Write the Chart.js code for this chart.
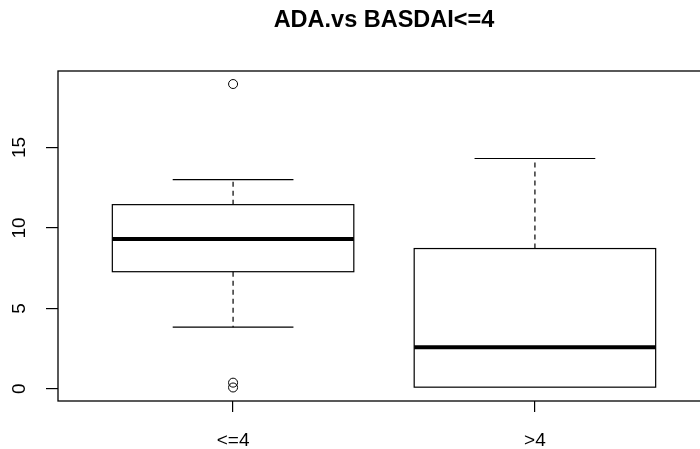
<!DOCTYPE html>
<html>
<head>
<meta charset="utf-8">
<script src="https://cdn.jsdelivr.net/npm/chart.js@4.4.0/dist/chart.umd.min.js"></script>
<style>
  html, body { margin: 0; padding: 0; background: #fff; overflow: hidden; }
  canvas { display: block; }
</style>
</head>
<body>
<canvas id="grafico" width="768" height="449"></canvas>
<script>
const grupos = ['<=4', '>4'];
const minimo = [3.83, 0.1];
const q1 = [7.28, 0.1];
const mediana = [9.32, 2.58];
const q3 = [11.45, 8.72];
const maximo = [13.0, 14.32];
const outliers = [[18.95, 0.38, 0.08], []];
const yTicks = [0, 5, 10, 15];

const pontosOutliers = [];
outliers.forEach((lista, i) => {
  lista.forEach(v => pontosOutliers.push({ x: i + 1, y: v }));
});

// desenha caixas, medianas e bigodes pelas escalas do grafico
const boxplotPlugin = {
  id: 'boxplot',
  beforeDatasetsDraw(chart) {
    const { ctx, scales: { x, y } } = chart;
    ctx.save();
    ctx.strokeStyle = '#000';
    grupos.forEach((g, i) => {
      const c = i + 1;
      const xe = x.getPixelForValue(c - 0.4);
      const xd = x.getPixelForValue(c + 0.4);
      const xc = x.getPixelForValue(c);
      const ce = x.getPixelForValue(c - 0.2);
      const cd = x.getPixelForValue(c + 0.2);

      // bigodes tracejados
      ctx.lineWidth = 1.2;
      ctx.setLineDash([5, 4]);
      ctx.beginPath();
      ctx.moveTo(xc, y.getPixelForValue(q3[i]));
      ctx.lineTo(xc, y.getPixelForValue(maximo[i]));
      ctx.moveTo(xc, y.getPixelForValue(q1[i]));
      ctx.lineTo(xc, y.getPixelForValue(minimo[i]));
      ctx.stroke();
      ctx.setLineDash([]);

      // travessas
      ctx.beginPath();
      ctx.moveTo(ce, y.getPixelForValue(maximo[i]));
      ctx.lineTo(cd, y.getPixelForValue(maximo[i]));
      if (minimo[i] < q1[i]) {
        ctx.moveTo(ce, y.getPixelForValue(minimo[i]));
        ctx.lineTo(cd, y.getPixelForValue(minimo[i]));
      }
      ctx.stroke();

      // caixa
      const yt = y.getPixelForValue(q3[i]);
      const yb = y.getPixelForValue(q1[i]);
      ctx.lineWidth = 1.2;
      ctx.strokeRect(xe, yt, xd - xe, yb - yt);

      // mediana
      ctx.lineWidth = 4;
      ctx.beginPath();
      ctx.moveTo(xe, y.getPixelForValue(mediana[i]));
      ctx.lineTo(xd, y.getPixelForValue(mediana[i]));
      ctx.stroke();
    });
    ctx.restore();
  },
  afterDraw(chart) {
    const { ctx, chartArea: a } = chart;
    ctx.save();
    ctx.strokeStyle = '#000';
    ctx.lineWidth = 1.3;
    ctx.strokeRect(a.left, a.top, a.right - a.left, a.bottom - a.top);
    ctx.restore();
  }
};

const fonte = { family: 'Liberation Sans, Arial, sans-serif', size: 19 };

new Chart(document.getElementById('grafico'), {
  type: 'scatter',
  data: {
    datasets: [{
      data: pontosOutliers,
      pointStyle: 'circle',
      pointRadius: 4.5,
      pointHoverRadius: 4.5,
      pointBorderWidth: 1,
      pointBorderColor: '#000',
      pointBackgroundColor: 'rgba(0,0,0,0)'
    }]
  },
  options: {
    responsive: false,
    animation: false,
    devicePixelRatio: 1,
    layout: { padding: 0 },
    plugins: {
      legend: { display: false },
      tooltip: { enabled: false },
      title: {
        display: true,
        text: 'ADA.vs BASDAI<=4',
        color: '#000',
        font: { family: 'Liberation Sans, Arial, sans-serif', size: 23.5, weight: 'bold' },
        padding: { top: 6, bottom: 36.8 }
      }
    },
    scales: {
      x: {
        type: 'linear',
        min: 0.42,
        max: 2.58,
        afterBuildTicks: s => { s.ticks = grupos.map((g, i) => ({ value: i + 1 })); },
        afterFit: s => { s.height = 48; },
        border: { display: false },
        grid: { drawOnChartArea: false, drawTicks: true, tickLength: 11, color: '#000', lineWidth: 1.2 },
        ticks: {
          color: '#000',
          font: fonte,
          padding: 17,
          maxRotation: 0,
          callback: v => grupos[v - 1]
        }
      },
      y: {
        min: -0.76,
        max: 19.76,
        afterBuildTicks: s => { s.ticks = yTicks.map(v => ({ value: v })); },
        afterFit: s => { s.width = 58; },
        border: { display: false },
        grid: { drawOnChartArea: false, drawTicks: true, tickLength: 12, color: '#000', lineWidth: 1.2 },
        ticks: {
          color: '#000',
          font: fonte,
          padding: 15.4,
          minRotation: 90,
          maxRotation: 90,
          crossAlign: 'center'
        }
      },
      // margem direita vazia, como no grafico do R
      margemDireita: {
        position: 'right',
        afterFit: s => { s.width = 58; },
        border: { display: false },
        grid: { display: false },
        ticks: { display: false }
      }
    }
  },
  plugins: [boxplotPlugin]
});
</script>
</body>
</html>
